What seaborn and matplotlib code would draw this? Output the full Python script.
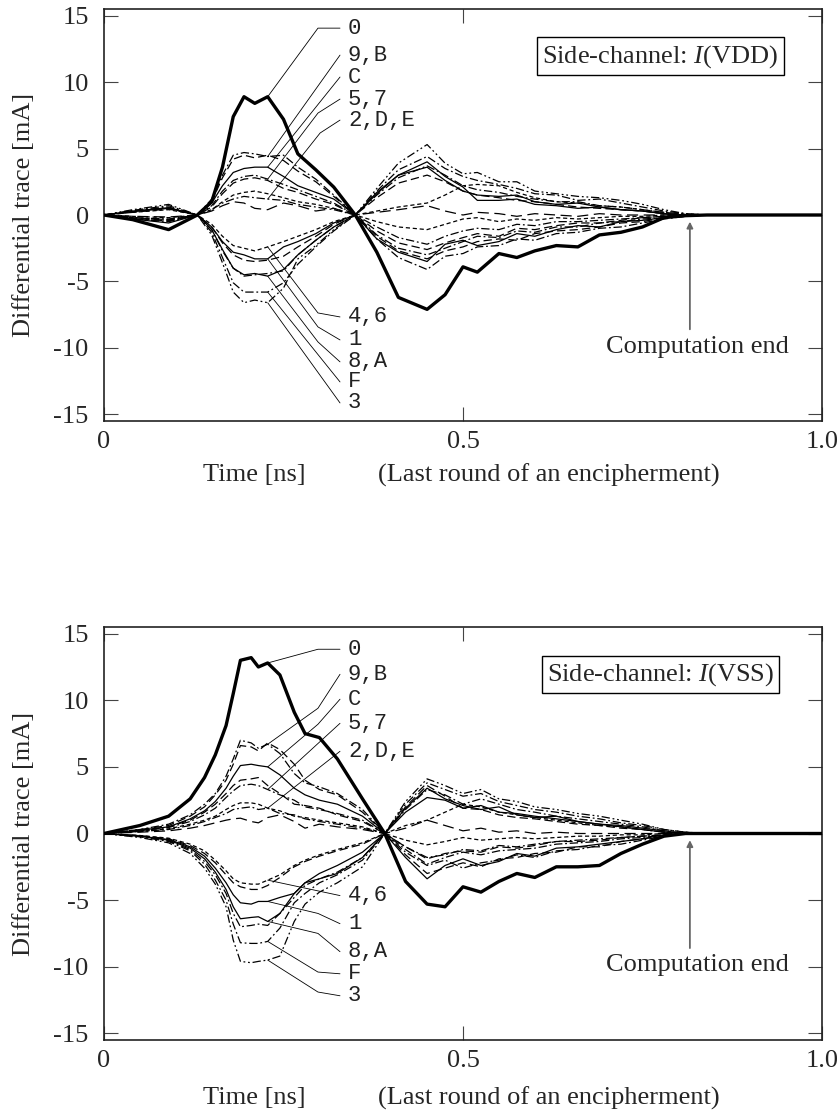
import matplotlib
matplotlib.use("Agg")
import matplotlib.pyplot as plt
import pandas as pd
import seaborn as sns

# ---------------------------------------------------------------------------
# Time grids [ns]
# ---------------------------------------------------------------------------
T_VDD = [0.00, 0.04, 0.09, 0.13, 0.15, 0.165, 0.18, 0.195, 0.21, 0.228, 0.25,
         0.27, 0.295, 0.32, 0.35, 0.38, 0.41, 0.45, 0.475, 0.50, 0.52, 0.55,
         0.575, 0.60, 0.63, 0.66, 0.69, 0.72, 0.75, 0.78, 0.81, 0.84, 1.00]

T_VSS = [0.00, 0.05, 0.09, 0.12, 0.14, 0.155, 0.17, 0.18, 0.19, 0.205, 0.215,
         0.228, 0.245, 0.265, 0.28, 0.30, 0.325, 0.36, 0.391, 0.42, 0.45, 0.475,
         0.50, 0.525, 0.55, 0.575, 0.60, 0.63, 0.66, 0.69, 0.72, 0.75, 0.78,
         0.81, 0.84, 1.00]

# ---------------------------------------------------------------------------
# Differential traces [mA], side channel I(VDD)
# ---------------------------------------------------------------------------
VDD_0 = [0, -0.35, -1.1, 0, 1.0, 3.6, 7.4, 8.9, 8.4, 8.9, 7.2, 4.6, 3.4, 2.1, 0, -2.8, -6.2, -7.1, -6.0, -3.9, -4.3, -2.9, -3.2, -2.7, -2.3, -2.4, -1.5, -1.3, -0.9, -0.2, -0.05, 0, 0]
VDD_9 = [0, -0.3, -0.5, 0, 1.2, 3.0, 4.5, 4.7, 4.6, 4.4, 4.5, 3.6, 2.7, 1.5, 0, -1.8, -3.2, -4.1, -3.1, -2.9, -2.4, -2.3, -1.8, -1.9, -1.4, -1.3, -1.0, -0.9, -0.6, -0.3, -0.1, 0, 0]
VDD_B = [0, -0.25, -0.45, 0, 1.0, 2.8, 4.2, 4.5, 4.3, 4.5, 4.1, 3.3, 2.5, 1.4, 0, -1.6, -2.7, -3.3, -2.7, -2.4, -2.0, -1.8, -1.9, -1.4, -1.2, -1.1, -0.9, -0.6, -0.5, -0.2, -0.1, 0, 0]
VDD_C = [0, -0.3, -0.6, 0, 0.9, 2.2, 3.2, 3.5, 3.6, 3.6, 2.9, 2.2, 1.7, 1.2, 0, -1.8, -2.8, -3.5, -2.2, -1.9, -2.3, -2.0, -1.4, -1.6, -1.1, -0.8, -0.9, -0.5, -0.4, -0.2, -0.1, 0, 0]
VDD_5 = [0, -0.2, -0.4, 0, 0.7, 1.8, 2.6, 2.9, 3.0, 2.7, 2.3, 1.9, 1.4, 0.9, 0, -1.5, -2.5, -3.0, -2.5, -2.0, -1.6, -1.7, -1.2, -1.3, -0.9, -0.9, -0.6, -0.5, -0.3, -0.2, -0.05, 0, 0]
VDD_7 = [0, -0.2, -0.35, 0, 0.6, 1.6, 2.4, 2.7, 2.8, 2.6, 2.0, 1.7, 1.2, 0.8, 0, -1.2, -2.1, -2.6, -2.1, -1.7, -1.4, -1.6, -1.0, -1.1, -0.8, -0.6, -0.6, -0.4, -0.2, -0.1, 0, 0, 0]
VDD_2 = [0, -0.1, -0.2, 0, 0.4, 1.0, 1.5, 1.7, 1.8, 1.6, 1.3, 1.0, 0.8, 0.5, 0, -0.5, -0.9, -1.1, -0.7, -0.3, -0.2, -0.5, -0.3, -0.4, -0.2, -0.3, -0.2, -0.1, -0.1, 0, 0, 0, 0]
VDD_D = [0, -0.2, -0.3, 0, 0.4, 0.9, 1.2, 1.4, 1.3, 1.2, 1.1, 0.8, 0.6, 0.4, 0, -0.9, -1.7, -2.2, -1.6, -1.2, -1.0, -1.1, -0.7, -0.8, -0.5, -0.5, -0.4, -0.3, -0.2, -0.1, 0, 0, 0]
VDD_E = [0, -0.1, -0.15, 0, 0.3, 0.7, 1.0, 0.9, 0.5, 0.4, 0.9, 0.7, 0.3, 0.5, 0, 0.2, 0.4, 0.7, 0.3, 0.0, 0.2, 0.1, -0.1, 0.1, 0.0, -0.1, 0.1, 0.0, 0.0, 0, 0, 0, 0]
VDD_4 = [0, 0.2, 0.4, 0, -0.7, -1.6, -2.3, -2.5, -2.7, -2.4, -2.0, -1.6, -1.1, -0.5, 0, 0.3, 0.6, 0.9, 1.5, 2.2, 2.3, 2.2, 1.7, 1.3, 1.0, 0.9, 0.7, 0.6, 0.4, 0.2, 0.05, 0, 0]
VDD_6 = [0, 0.2, 0.45, 0, -0.9, -2.1, -3.0, -3.4, -3.5, -3.4, -3.1, -2.4, -1.6, -0.7, 0, 1.3, 2.4, 3.0, 2.5, 1.8, 1.5, 1.3, 1.1, 1.0, 0.8, 0.6, 0.5, 0.4, 0.3, 0.1, 0, 0, 0]
VDD_1 = [0, 0.25, 0.5, 0, -0.9, -2.0, -2.8, -3.0, -3.3, -3.3, -2.4, -2.0, -1.4, -0.6, 0, 1.6, 3.0, 4.0, 2.9, 2.1, 1.1, 1.1, 1.2, 0.8, 0.7, 0.5, 0.6, 0.4, 0.3, 0.1, 0, 0, 0]
VDD_8 = [0, 0.3, 0.55, 0, -1.1, -2.6, -4.0, -4.5, -4.4, -4.6, -4.1, -3.0, -1.9, -0.9, 0, 1.7, 3.0, 3.6, 2.6, 1.8, 1.5, 1.4, 1.5, 1.0, 0.8, 0.9, 0.6, 0.4, 0.3, 0.1, 0, 0, 0]
VDD_A = [0, 0.3, 0.6, 0, -1.1, -2.7, -4.0, -4.6, -4.5, -4.4, -4.2, -3.0, -1.9, -0.9, 0, 1.5, 2.8, 3.7, 3.0, 2.2, 1.9, 1.7, 1.4, 1.2, 1.0, 1.0, 0.7, 0.6, 0.4, 0.2, 0.05, 0, 0]
VDD_F = [0, 0.35, 0.7, 0, -1.3, -3.2, -5.1, -5.8, -5.8, -5.8, -5.1, -3.7, -2.4, -1.2, 0, 1.8, 3.4, 4.4, 3.5, 2.9, 2.6, 2.3, 2.0, 1.6, 1.5, 1.1, 1.2, 0.9, 0.6, 0.3, 0.1, 0, 0]
VDD_3 = [0, 0.4, 0.8, 0, -1.5, -3.6, -5.8, -6.6, -6.4, -6.6, -5.5, -3.3, -2.3, -1.1, 0, 2.0, 3.9, 5.3, 3.9, 3.1, 3.2, 2.5, 2.5, 1.8, 1.6, 1.4, 1.3, 1.1, 0.8, 0.4, 0.1, 0, 0]

# ---------------------------------------------------------------------------
# Differential traces [mA], side channel I(VSS)
# ---------------------------------------------------------------------------
VSS_0 = [0, 0.6, 1.3, 2.6, 4.2, 5.9, 8.1, 10.5, 13.0, 13.2, 12.5, 12.8, 11.9, 9.1, 7.5, 7.2, 5.6, 2.6, 0, -3.6, -5.3, -5.5, -4.0, -4.4, -3.6, -3.0, -3.3, -2.5, -2.5, -2.4, -1.5, -0.8, -0.2, 0, 0, 0]
VSS_9 = [0, 0.3, 0.7, 1.4, 2.2, 3.0, 4.3, 5.6, 7.0, 6.8, 6.4, 6.7, 6.0, 4.5, 3.8, 3.5, 3.0, 1.8, 0, -1.4, -2.4, -2.0, -2.6, -2.2, -2.0, -1.6, -1.8, -1.3, -1.2, -0.9, -0.8, -0.5, -0.2, 0, 0, 0]
VSS_B = [0, 0.3, 0.6, 1.3, 2.0, 2.9, 4.0, 5.2, 6.6, 6.5, 6.2, 6.8, 6.3, 5.2, 4.0, 3.3, 2.9, 1.6, 0, -1.6, -3.0, -2.6, -2.2, -2.5, -1.9, -1.8, -1.5, -1.4, -1.0, -1.0, -0.6, -0.4, -0.2, 0, 0, 0]
VSS_C = [0, 0.25, 0.5, 1.1, 1.7, 2.4, 3.4, 4.3, 5.1, 5.2, 5.1, 5.0, 4.4, 3.4, 2.9, 2.5, 2.2, 1.3, 0, -1.8, -3.4, -2.4, -1.9, -2.4, -2.1, -1.5, -1.7, -1.1, -1.0, -0.8, -0.6, -0.4, -0.1, 0, 0, 0]
VSS_5 = [0, 0.2, 0.45, 0.9, 1.4, 1.9, 2.7, 3.2, 3.6, 3.7, 3.6, 3.3, 2.9, 2.5, 2.0, 1.8, 1.5, 1.0, 0, -1.2, -2.3, -1.8, -1.4, -1.6, -1.3, -1.2, -1.1, -0.8, -0.7, -0.6, -0.4, -0.3, -0.1, 0, 0, 0]
VSS_7 = [0, 0.2, 0.5, 1.0, 1.6, 2.2, 3.0, 3.6, 4.0, 4.1, 4.2, 3.6, 3.0, 2.2, 2.1, 1.9, 1.4, 0.9, 0, -1.0, -1.9, -1.5, -1.3, -1.4, -1.0, -1.1, -0.9, -0.6, -0.6, -0.5, -0.3, -0.2, -0.1, 0, 0, 0]
VSS_2 = [0, 0.15, 0.35, 0.7, 1.0, 1.3, 1.8, 2.1, 2.3, 2.3, 2.2, 1.9, 1.7, 1.3, 1.2, 1.0, 0.8, 0.5, 0, -0.5, -0.85, -0.6, -0.3, -0.5, -0.4, -0.3, -0.4, -0.3, -0.2, -0.2, -0.1, -0.1, 0, 0, 0, 0]
VSS_D = [0, 0.15, 0.3, 0.6, 0.9, 1.2, 1.5, 1.8, 1.9, 2.0, 1.8, 1.9, 1.5, 1.4, 1.1, 0.9, 0.7, 0.4, 0, -1.0, -1.8, -1.6, -1.2, -1.3, -0.9, -1.0, -0.8, -0.6, -0.5, -0.4, -0.3, -0.2, -0.1, 0, 0, 0]
VSS_E = [0, 0.1, 0.2, 0.4, 0.6, 0.8, 1.0, 1.1, 1.15, 0.9, 0.8, 1.2, 1.4, 0.9, 0.4, 0.7, 0.5, 0.3, 0, 0.4, 1.0, 0.6, 0.2, 0.4, 0.1, 0.2, 0.0, 0.1, 0.0, 0.0, 0.0, 0.0, 0, 0, 0, 0]
VSS_4 = [0, -0.15, -0.35, -0.8, -1.3, -2.0, -2.8, -3.4, -3.7, -3.8, -3.8, -3.5, -3.1, -2.4, -2.0, -1.6, -1.2, -0.7, 0, 0.6, 1.0, 1.6, 2.2, 2.0, 1.6, 1.4, 1.2, 1.0, 0.8, 0.6, 0.5, 0.3, 0.1, 0, 0, 0]
VSS_6 = [0, -0.15, -0.4, -0.9, -1.5, -2.2, -3.1, -3.7, -4.0, -4.2, -4.2, -3.9, -3.3, -2.5, -2.1, -1.7, -1.3, -0.8, 0, 2.0, 3.6, 2.8, 1.9, 1.8, 1.4, 1.2, 1.1, 0.9, 0.7, 0.6, 0.4, 0.3, 0.1, 0, 0, 0]
VSS_1 = [0, -0.2, -0.45, -1.0, -1.7, -2.6, -3.7, -4.6, -5.2, -5.3, -5.1, -5.1, -4.8, -4.5, -3.7, -3.0, -2.4, -1.4, 0, 1.6, 2.7, 2.5, 1.9, 2.1, 1.6, 1.5, 1.3, 1.1, 0.9, 0.7, 0.5, 0.3, 0.1, 0, 0, 0]
VSS_8 = [0, -0.2, -0.5, -1.1, -1.9, -2.9, -4.2, -5.5, -6.4, -6.3, -6.25, -6.6, -6.0, -4.5, -3.7, -3.4, -3.0, -1.8, 0, 1.9, 3.4, 2.6, 2.1, 1.8, 2.0, 1.4, 1.2, 1.3, 0.9, 0.7, 0.6, 0.4, 0.2, 0, 0, 0]
VSS_A = [0, -0.2, -0.55, -1.2, -2.1, -3.1, -4.5, -6.0, -7.0, -6.9, -6.8, -6.9, -6.0, -4.8, -3.9, -3.4, -2.9, -1.8, 0, 1.8, 3.3, 2.9, 2.2, 2.6, 2.2, 1.8, 1.6, 1.3, 1.1, 0.9, 0.7, 0.5, 0.2, 0, 0, 0]
VSS_F = [0, -0.25, -0.6, -1.3, -2.3, -3.5, -5.0, -6.8, -8.2, -8.25, -8.25, -8.1, -7.1, -5.2, -4.5, -3.7, -3.1, -2.0, 0, 2.2, 3.8, 3.3, 2.8, 3.0, 2.4, 2.1, 1.8, 1.6, 1.3, 1.1, 0.8, 0.6, 0.3, 0.1, 0, 0]
VSS_3 = [0, -0.3, -0.7, -1.5, -2.6, -3.8, -5.5, -8.0, -9.6, -9.7, -9.6, -9.5, -9.2, -6.6, -5.3, -4.4, -3.7, -2.5, 0, 2.4, 4.1, 3.6, 3.0, 3.3, 2.6, 2.4, 2.0, 1.8, 1.5, 1.3, 1.0, 0.7, 0.3, 0.1, 0, 0]

KEYS = ["0", "9", "B", "C", "5", "7", "2", "D", "E", "4", "6", "1", "8", "A", "F", "3"]

VDD = {"0": VDD_0, "9": VDD_9, "B": VDD_B, "C": VDD_C, "5": VDD_5, "7": VDD_7,
       "2": VDD_2, "D": VDD_D, "E": VDD_E, "4": VDD_4, "6": VDD_6, "1": VDD_1,
       "8": VDD_8, "A": VDD_A, "F": VDD_F, "3": VDD_3}
VSS = {"0": VSS_0, "9": VSS_9, "B": VSS_B, "C": VSS_C, "5": VSS_5, "7": VSS_7,
       "2": VSS_2, "D": VSS_D, "E": VSS_E, "4": VSS_4, "6": VSS_6, "1": VSS_1,
       "8": VSS_8, "A": VSS_A, "F": VSS_F, "3": VSS_3}

# Line styles per key guess (dash patterns in points)
SOLID = "-"
DASHED = (0, (6, 3))
LONGDASH = (0, (8, 4))
SHORTDASH = (0, (3, 2))
DASHDOT = (0, (6, 2, 1.3, 2))
DASHDOTDOT = (0, (6, 2, 1.3, 2, 1.3, 2))
STYLE = {"0": SOLID, "9": DASHDOT, "B": DASHED, "C": SOLID, "5": DASHDOT,
         "7": DASHED, "2": SHORTDASH, "D": DASHDOT, "E": LONGDASH,
         "4": SHORTDASH, "6": DASHED, "1": SOLID, "8": SOLID, "A": DASHDOT,
         "F": DASHDOT, "3": DASHDOTDOT}

# Group labels: (text, label height, key pointed at, optional elbow point)
LABELS_VDD = [("0", 14.06, "0", (0.298, 14.06)),
              ("9,B", 12.03, "9", None),
              ("C", 10.38, "C", None),
              ("5,7", 8.72, "5", (0.298, 7.67)),
              ("2,D,E", 7.14, "D", (0.301, 6.17)),
              ("4,6", -7.67, "4", (0.298, -7.37)),
              ("1", -9.40, "1", (0.298, -8.42)),
              ("8,A", -11.05, "8", (0.298, -9.55)),
              ("F", -12.56, "F", None),
              ("3", -14.14, "3", None)]
LABELS_VSS = [("0", 13.83, "0", (0.298, 13.83)),
              ("9,B", 11.95, "9", (0.298, 9.4)),
              ("C", 10.08, "C", (0.298, 8.2)),
              ("5,7", 8.27, "5", None),
              ("2,D,E", 6.17, "2", None),
              ("4,6", -4.66, "4", None),
              ("1", -6.77, "1", (0.298, -6.0)),
              ("8,A", -8.87, "8", (0.298, -7.5)),
              ("F", -10.53, "F", (0.298, -10.4)),
              ("3", -12.18, "3", (0.298, -11.9))]

Y_TICKS = [-15, -10, -5, 0, 5, 10, 15]
X_TICKS = [0, 0.5, 1.0]
X_TICK_LABELS = ["0", "0.5", "1.0"]

# ---------------------------------------------------------------------------
sns.set_theme(style="ticks")
plt.rcParams["font.family"] = ["Liberation Serif", "DejaVu Serif"]
plt.rcParams["mathtext.fontset"] = "custom"
plt.rcParams["mathtext.rm"] = "Liberation Serif"
plt.rcParams["mathtext.it"] = "Liberation Serif:italic"
plt.rcParams["axes.unicode_minus"] = False
plt.rcParams["lines.scale_dashes"] = False

SERIF_SIZE = 19
MONO_SIZE = 16

fig = plt.figure(figsize=(8.38, 11.18), dpi=100)
fig.patch.set_facecolor("white")
ax_vdd = fig.add_axes([104 / 838, 1 - 421 / 1118, 718 / 838, 412 / 1118])
ax_vss = fig.add_axes([104 / 838, 1 - 1040 / 1118, 718 / 838, 413 / 1118])


def long_form(times, traces):
    rows = []
    for key in KEYS:
        for t, v in zip(times, traces[key]):
            rows.append({"time": t, "current": v, "key": key})
    return pd.DataFrame(rows)


def draw_panel(ax, times, traces, labels, target_idx, channel, xlab_y):
    df = long_form(times, traces)
    for key in KEYS:
        sub = df[df["key"] == key]
        sns.lineplot(data=sub, x="time", y="current", ax=ax, color="black",
                     linewidth=2.4 if key == "0" else 0.9,
                     linestyle=STYLE[key], estimator=None, sort=False,
                     legend=False, zorder=3 if key == "0" else 2)

    # labels with leader lines
    for text, ty, key, elbow in labels:
        target = (times[target_idx], traces[key][target_idx])
        pts = [(0.3287, ty)]
        if elbow is not None:
            pts.append(elbow)
        pts.append(target)
        xs, ys = zip(*pts)
        ax.plot(xs, ys, color="black", lw=0.6, zorder=4)
        ax.text(0.3398, ty, text, family="Liberation Mono", fontsize=MONO_SIZE,
                ha="left", va="center", color="#222222")

    # end-of-computation marker
    ax.annotate("", xy=(0.816, -0.5), xytext=(0.816, -8.6),
                arrowprops=dict(arrowstyle="-|>", color="#666666", lw=1.3,
                                mutation_scale=9, shrinkA=0, shrinkB=0))
    ax.text(0.826, -9.9, "Computation end", ha="center", va="center",
            fontsize=SERIF_SIZE)

    ax.text(0.775, 11.95, "Side-channel: $I$(" + channel + ")", ha="center",
            va="center", fontsize=SERIF_SIZE,
            bbox=dict(boxstyle="square,pad=0.2", fc="white", ec="black",
                      lw=1.0))

    ax.set_xlim(0, 1.0)
    ax.set_ylim(-15.5, 15.5)
    ax.set_xticks(X_TICKS)
    ax.set_xticklabels(X_TICK_LABELS)
    ax.set_yticks(Y_TICKS)
    ax.set_yticklabels([str(v) for v in Y_TICKS])
    ax.tick_params(axis="both", direction="in", top=True, right=True,
                   length=10, width=0.8, color="#444444",
                   labelsize=SERIF_SIZE)
    ax.tick_params(axis="x", pad=7)
    ax.tick_params(axis="y", pad=11)
    ax.set_xlabel("")
    ax.set_ylabel("")
    for side in ax.spines.values():
        side.set_visible(True)
        side.set_linewidth(1.2)
        side.set_color("#222222")
    ax.set_facecolor("white")

    ax.text(-80 / 718, 0.5, "Differential trace [mA]", rotation=90,
            ha="center", va="center", transform=ax.transAxes,
            fontsize=SERIF_SIZE)
    ax.text(0.21, xlab_y, "Time [ns]", ha="center", va="center",
            transform=ax.transAxes, fontsize=SERIF_SIZE)
    ax.text(0.62, xlab_y, "(Last round of an encipherment)", ha="center",
            va="center", transform=ax.transAxes, fontsize=SERIF_SIZE)


draw_panel(ax_vdd, T_VDD, VDD, LABELS_VDD, 9, "VDD", -0.131)
draw_panel(ax_vss, T_VSS, VSS, LABELS_VSS, 11, "VSS", -0.140)

fig.savefig("out.png", dpi=100, facecolor="white")
